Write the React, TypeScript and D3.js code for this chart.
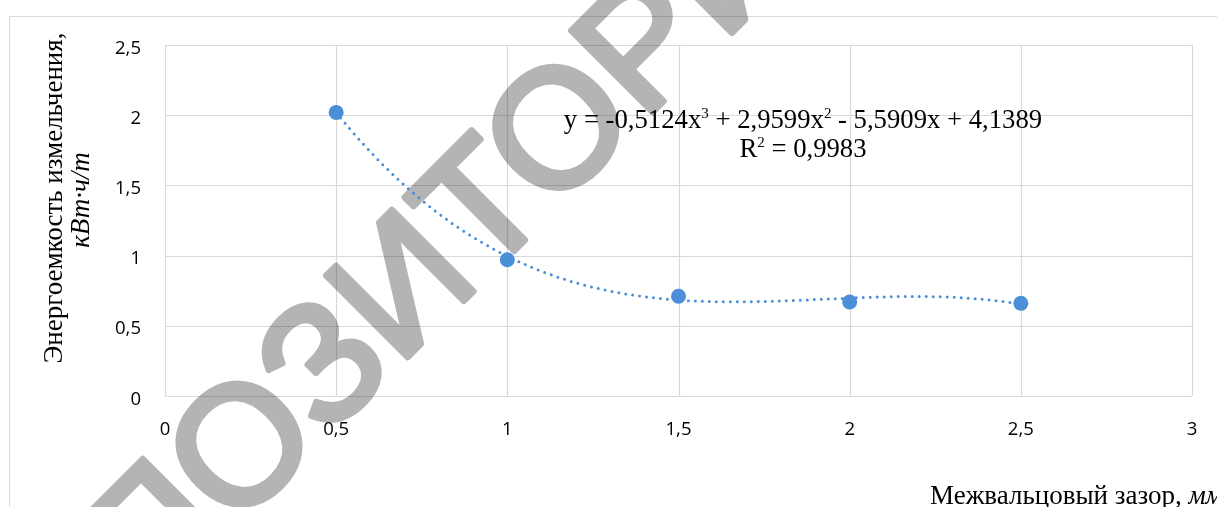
import React from "react";
import * as d3 from "d3";

const gaps = [0.5, 1, 1.5, 2, 2.5];
const energy = [2.02, 0.97, 0.71, 0.67, 0.66];
const xTicks = [0, 0.5, 1, 1.5, 2, 2.5, 3];
const yTicks = [0, 0.5, 1, 1.5, 2, 2.5];
// trendline polynomial coefficients: a3, a2, a1, a0 (from the chart's equation)
const trendCoef = [-0.5124, 2.9599, -5.5909, 4.1389];
const rSquared = "0,9983";
const yTitle1 = "Энергоемкость измельчения,";
const yTitle2 = "кВт·ч/т";
const xTitle = "Межвальцовый зазор, ";
const xTitleUnit = "мм";
const watermark = "РЕПОЗИТОРИЙ";

const W = 1217;
const H = 507;
const BLUE = "#4a8fd8";
const GRID = "#d9d9d9";
const SERIF = "'Liberation Serif', 'Times New Roman', serif";
const SANS = "'Open Sans', 'Liberation Sans', sans-serif";

const fmt = (v: number) => String(v).replace(".", ",");

export default function App() {
  const x = d3.scaleLinear().domain([0, 3]).range([165, 1192]);
  const y = d3.scaleLinear().domain([0, 2.5]).range([396, 45]);

  const poly = (t: number) =>
    trendCoef[0] * t * t * t + trendCoef[1] * t * t + trendCoef[2] * t + trendCoef[3];
  const xs = d3.range(gaps[0], gaps[gaps.length - 1] + 1e-9, 0.02);
  const line = d3
    .line<number>()
    .x((t) => x(t))
    .y((t) => y(poly(t)))
    .curve(d3.curveMonotoneX);

  const c = trendCoef.map((v) => fmt(Math.abs(v)));
  const sgn = (v: number) => (v < 0 ? "-" : "+");

  const wmSize = 168;

  return (
    <svg
      width={W}
      height={H}
      style={{ position: "absolute", left: 0, top: 0, background: "#fff" }}
    >
      <rect x={0} y={0} width={W} height={H} fill="#fff" />

      {/* watermark (behind the chart content) */}
      <text
        transform="translate(399,281) rotate(-45)"
        x={0}
        y={wmSize * 0.358}
        textAnchor="middle"
        fontFamily="'Liberation Sans', Arial, sans-serif"
        fontSize={wmSize}
        fill="#b4b4b4"
        stroke="#b4b4b4"
        strokeWidth={6}
        strokeLinejoin="round"
      >
        {watermark}
      </text>

      {/* chart frame */}
      <rect x={9.5} y={16.5} width={1400} height={700} fill="none" stroke={GRID} strokeWidth={1} style={{ mixBlendMode: "multiply" }} />

      {/* gridlines */}
      <g style={{ mixBlendMode: "multiply" }}>
        {yTicks.map((v) => (
          <line key={"gy" + v} x1={x(0)} x2={x(3)} y1={Math.round(y(v)) + 0.5} y2={Math.round(y(v)) + 0.5} stroke={GRID} strokeWidth={1.2} />
        ))}
        {xTicks.map((v) => (
          <line key={"gx" + v} x1={Math.round(x(v)) + 0.5} x2={Math.round(x(v)) + 0.5} y1={y(0)} y2={y(2.5)} stroke={GRID} strokeWidth={1.2} />
        ))}
      </g>

      {/* tick labels */}
      {yTicks.map((v) => (
        <text key={"ty" + v} x={141} y={y(v) + 1} textAnchor="end" dominantBaseline="central" fontFamily={SANS} fontSize={18.5} fill="#000">
          {fmt(v)}
        </text>
      ))}
      {xTicks.map((v) => (
        <text key={"tx" + v} x={x(v)} y={427} textAnchor="middle" dominantBaseline="central" fontFamily={SANS} fontSize={18.5} fill="#000">
          {fmt(v)}
        </text>
      ))}

      {/* trendline */}
      <path d={line(xs) || ""} fill="none" stroke={BLUE} strokeWidth={3} strokeLinecap="round" strokeDasharray="0 7" />

      {/* markers */}
      {gaps.map((g, i) => (
        <circle key={"p" + i} cx={x(g)} cy={y(energy[i])} r={7.5} fill={BLUE} />
      ))}

      {/* equation */}
      <text x={803} y={128} textAnchor="middle" fontFamily={SERIF} fontSize={26.7} fill="#000">
        <tspan>{`y = ${trendCoef[0] < 0 ? "-" : ""}${c[0]}x`}</tspan>
        <tspan dy={-10} fontSize={15}>3</tspan>
        <tspan dy={10}>{` ${sgn(trendCoef[1])} ${c[1]}x`}</tspan>
        <tspan dy={-10} fontSize={15}>2</tspan>
        <tspan dy={10}>{` ${sgn(trendCoef[2])} ${c[2]}x ${sgn(trendCoef[3])} ${c[3]}`}</tspan>
      </text>
      <text x={803} y={157} textAnchor="middle" fontFamily={SERIF} fontSize={26.7} fill="#000">
        <tspan>R</tspan>
        <tspan dy={-10} fontSize={15}>2</tspan>
        <tspan dy={10}>{` = ${rSquared}`}</tspan>
      </text>

      {/* axis titles */}
      <text transform="translate(62,198) rotate(-90)" textAnchor="middle" fontFamily={SERIF} fontSize={27} fill="#000">
        {yTitle1}
      </text>
      <text transform="translate(89,200) rotate(-90)" textAnchor="middle" fontFamily={SERIF} fontSize={27} fontStyle="italic" fill="#000">
        {yTitle2}
      </text>
      <text x={930} y={504} fontFamily={SERIF} fontSize={27} fill="#000">
        {xTitle}
        <tspan fontStyle="italic">{xTitleUnit}</tspan>
      </text>
    </svg>
  );
}
